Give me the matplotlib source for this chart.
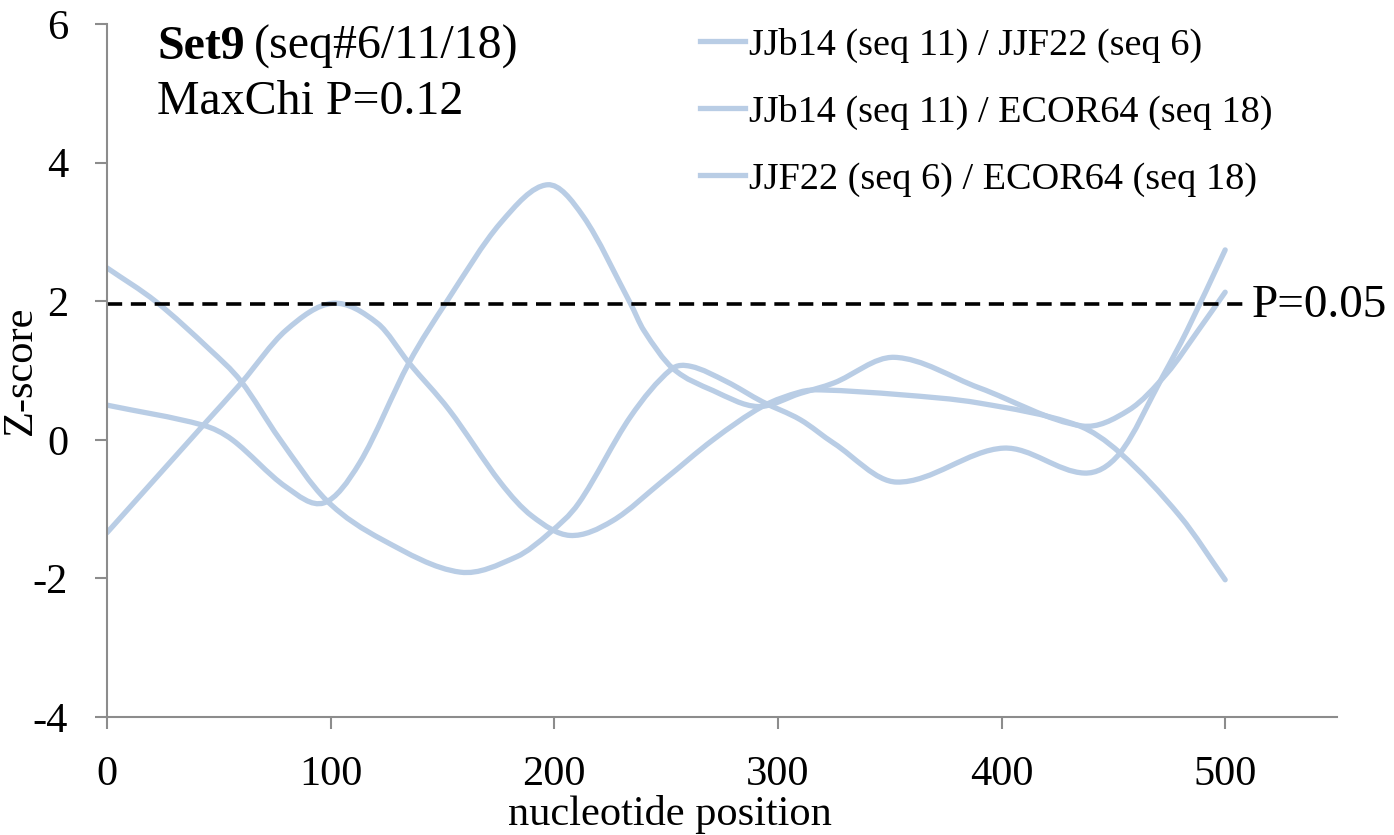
"""
Z-score scan for Set9 (seq#6/11/18): three pairwise comparisons along the
nucleotide position, Excel-style smoothed lines with the P=0.05 threshold.
"""

import matplotlib
matplotlib.use("Agg")
import matplotlib.pyplot as plt
from matplotlib.path import Path
from matplotlib.patches import PathPatch
from matplotlib.lines import Line2D

plt.rcParams["font.family"] = ["Liberation Serif", "DejaVu Serif"]
plt.rcParams["axes.unicode_minus"] = False

# --- data ---
labels = [
    "JJb14 (seq 11) / JJF22 (seq 6)",
    "JJb14 (seq 11) / ECOR64 (seq 18)",
    "JJF22 (seq 6) / ECOR64 (seq 18)",
]

pos_1 = [0, 22, 46, 60, 77, 98, 123, 158, 183, 198, 211, 234, 252, 261, 277,
         293, 310, 325, 353, 401, 437, 453, 472, 483, 500]
z_1 = [2.48, 1.99, 1.30, 0.84, 0.02, -0.87, -1.44, -1.91, -1.69, -1.34, -0.91,
       0.33, 1.01, 1.06, 0.84, 0.55, 0.29, -0.05, -0.61, -0.12, -0.48, -0.19,
       0.91, 1.58, 2.74]

pos_2 = [0, 43, 56, 80, 97, 113, 135, 152, 176, 197, 213, 234, 240, 253, 271,
         291, 310, 325, 352, 390, 436, 457, 474, 488, 500]
z_2 = [0.50, 0.21, 0.0, -0.68, -0.91, -0.33, 1.11, 2.0, 3.13, 3.68, 3.22, 1.97,
       1.58, 1.03, 0.71, 0.48, 0.67, 0.82, 1.19, 0.75, 0.20, 0.43, 0.96, 1.58,
       2.13]

pos_3 = [0, 43, 60, 80, 101, 121, 135, 153, 176, 190, 207, 226, 249, 271, 293,
         310, 319, 355, 390, 434, 453, 480, 500]
z_3 = [-1.34, 0.21, 0.82, 1.58, 1.97, 1.68, 1.11, 0.43, -0.62, -1.10, -1.38,
       -1.17, -0.58, 0.0, 0.48, 0.69, 0.72, 0.65, 0.53, 0.21, -0.19, -1.11,
       -2.02]

threshold = 1.96
threshold_end = 510

line_color = "#B9CDE5"
axis_color = "#8c8c8c"


def smooth_path(xs, ys):
    """Cubic Hermite curve through the points, drawn as Bezier segments
    (roughly what Excel's 'smoothed line' does)."""
    n = len(xs)
    slopes = []
    for i in range(n):
        lo, hi = max(i - 1, 0), min(i + 1, n - 1)
        slopes.append((ys[hi] - ys[lo]) / (xs[hi] - xs[lo]))
    verts = [(xs[0], ys[0])]
    codes = [Path.MOVETO]
    for i in range(n - 1):
        h = xs[i + 1] - xs[i]
        verts += [(xs[i] + h / 3, ys[i] + slopes[i] * h / 3),
                  (xs[i + 1] - h / 3, ys[i + 1] - slopes[i + 1] * h / 3),
                  (xs[i + 1], ys[i + 1])]
        codes += [Path.CURVE4] * 3
    return Path(verts, codes)


fig = plt.figure(figsize=(13.94, 8.35), dpi=100)
ax = fig.add_axes([0.0768, 0.1413, 0.8823, 0.8300])

for xs, ys in [(pos_1, z_1), (pos_2, z_2), (pos_3, z_3)]:
    ax.add_patch(PathPatch(smooth_path(xs, ys), facecolor="none",
                           edgecolor=line_color, lw=3.8, capstyle="round",
                           joinstyle="round"))

ax.plot([0, threshold_end], [threshold, threshold], color="black", lw=2.6,
        ls=(0, (4.2, 2.4)), clip_on=False)
ax.text(threshold_end + 2, threshold - 0.03, "P=0.05", fontsize=34,
        va="center", ha="left")

ax.set_xlim(0, 550)
ax.set_ylim(-4, 6)
ax.set_xticks(range(0, 501, 100))
ax.set_yticks(range(-4, 7, 2))
ax.tick_params(axis="both", labelsize=30.5, direction="out", length=8.6,
               width=1.5, color=axis_color)
ax.tick_params(axis="x", pad=19)
ax.tick_params(axis="y", pad=19.5)
for side in ["top", "right"]:
    ax.spines[side].set_visible(False)
for side in ["left", "bottom"]:
    ax.spines[side].set_color(axis_color)
    ax.spines[side].set_linewidth(1.5)

ax.set_xlabel("nucleotide position", fontsize=30.5, va="top")
ax.xaxis.set_label_coords(0.4577, -0.112)
ax.set_ylabel("Z-score", fontsize=30.5)
ax.yaxis.set_label_coords(-0.0545, 0.5)

# title block, bold set name followed by plain text
set_txt = fig.text(0.1126, 0.944, "Set9", fontsize=34.5, fontweight="bold",
                   va="center", ha="left")
fig.canvas.draw()
bb = set_txt.get_window_extent()
fig.text((bb.x1 + 9) / fig.bbox.width, 0.944, "(seq#6/11/18)", fontsize=34.5,
         va="center", ha="left")
fig.text(0.1126, 0.878, "MaxChi P=0.12", fontsize=34.5, va="center", ha="left")

handles = [Line2D([], [], color=line_color, lw=3.8) for _ in labels]
ax.legend(handles, labels, loc="upper left", bbox_to_anchor=(0.482, 0.995),
          frameon=False, fontsize=27.5, handlelength=1.18, handletextpad=0.1,
          labelspacing=0.84, borderpad=0, borderaxespad=0)

fig.savefig("out.png", dpi=100)
